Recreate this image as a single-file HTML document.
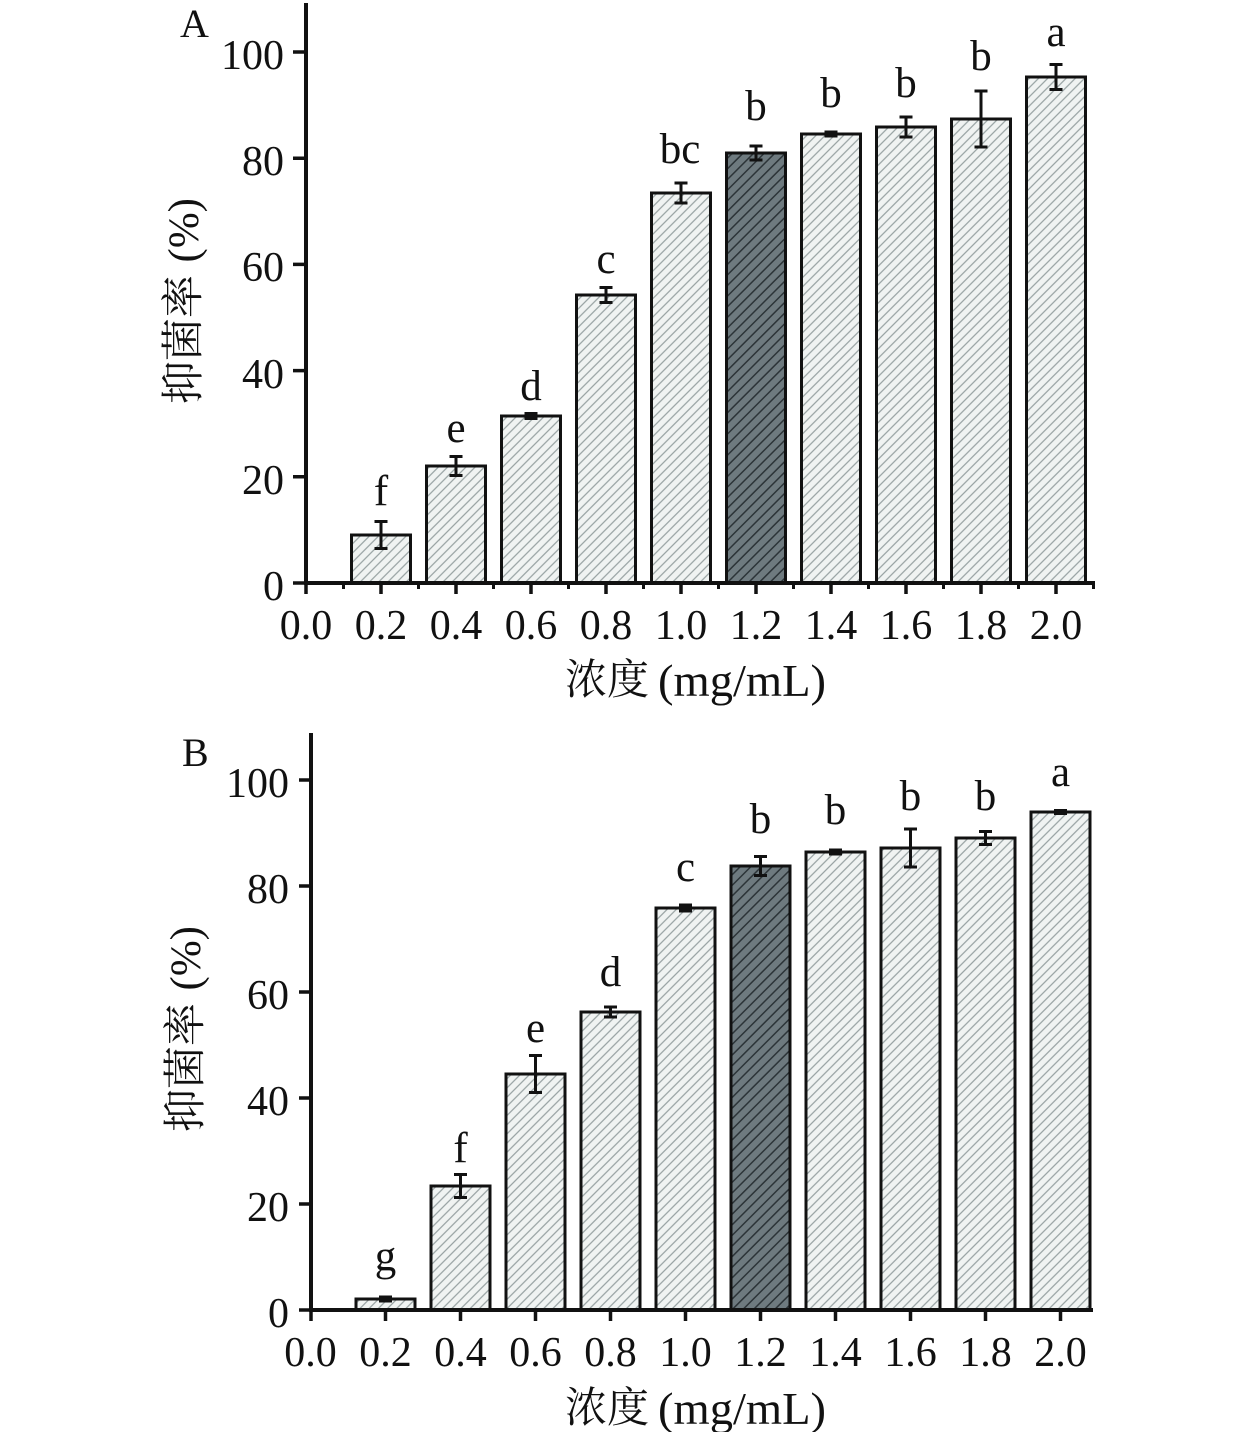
<!DOCTYPE html>
<html><head><meta charset="utf-8"><style>
html,body{margin:0;padding:0;background:#fff;}
svg{display:block;}
text{font-family:"Liberation Serif","Noto Serif CJK SC",serif;fill:#111;}
.cjk{font-family:"Noto Serif CJK SC","Liberation Serif",serif;}
</style></head><body>
<svg width="1260" height="1432" viewBox="0 0 1260 1432" xmlns="http://www.w3.org/2000/svg">
<defs>
<pattern id="hl" patternUnits="userSpaceOnUse" width="6.5" height="6.5" patternTransform="rotate(45)">
<rect width="6.5" height="6.5" fill="#f0f3f2"/>
<line x1="3.25" y1="0" x2="3.25" y2="6.5" stroke="#8d9899" stroke-width="1.1"/>
</pattern>
<pattern id="hd" patternUnits="userSpaceOnUse" width="7.5" height="7.5" patternTransform="rotate(45)">
<rect width="7.5" height="7.5" fill="#6e7a7f"/>
<line x1="3.75" y1="0" x2="3.75" y2="7.5" stroke="#2c3438" stroke-width="1.5"/>
</pattern>
</defs>

<!-- ================= CHART A ================= -->
<g stroke="#111" stroke-width="3">
<rect x="351.5" y="535" width="59" height="48" fill="url(#hl)"/>
<rect x="426.5" y="466" width="59" height="117" fill="url(#hl)"/>
<rect x="501.5" y="416" width="59" height="167" fill="url(#hl)"/>
<rect x="576.5" y="295" width="59" height="288" fill="url(#hl)"/>
<rect x="651.5" y="193" width="59" height="390" fill="url(#hl)"/>
<rect x="726.5" y="153" width="59" height="430" fill="url(#hd)"/>
<rect x="801.5" y="134" width="59" height="449" fill="url(#hl)"/>
<rect x="876.5" y="127" width="59" height="456" fill="url(#hl)"/>
<rect x="951.5" y="119" width="59" height="464" fill="url(#hl)"/>
<rect x="1026.5" y="77" width="59" height="506" fill="url(#hl)"/>
</g>
<g stroke="#111" stroke-width="3" fill="none">
<path d="M381 521.5V548.5M374.5 521.5H387.5M374.5 548.5H387.5"/>
<path d="M456 456.5V475.5M449.5 456.5H462.5M449.5 475.5H462.5"/>
<path d="M531 413.5V418.5M524.5 413.5H537.5M524.5 418.5H537.5"/>
<path d="M606 287.5V302.5M599.5 287.5H612.5M599.5 302.5H612.5"/>
<path d="M681 183V203M674.5 183H687.5M674.5 203H687.5"/>
<path d="M756 146V160M749.5 146H762.5M749.5 160H762.5"/>
<path d="M831 132V136M824.5 132H837.5M824.5 136H837.5"/>
<path d="M906 117V137M899.5 117H912.5M899.5 137H912.5"/>
<path d="M981 91V147M974.5 91H987.5M974.5 147H987.5"/>
<path d="M1056 64.5V89.5M1049.5 64.5H1062.5M1049.5 89.5H1062.5"/>
</g>
<g font-size="43" text-anchor="middle">
<text x="381" y="505">f</text>
<text x="456" y="442">e</text>
<text x="531" y="400">d</text>
<text x="606" y="273">c</text>
<text x="680" y="163">bc</text>
<text x="756" y="120">b</text>
<text x="831" y="107">b</text>
<text x="906" y="97">b</text>
<text x="981" y="70">b</text>
<text x="1056" y="46">a</text>
</g>
<g stroke="#111" fill="none">
<path d="M306 3V585" stroke-width="4"/>
<path d="M304 583H1095" stroke-width="4"/>
<path stroke-width="3.5" d="M306 583V594M381 583V594M456 583V594M531 583V594M606 583V594M681 583V594M756 583V594M831 583V594M906 583V594M981 583V594M1056 583V594"/>
<path stroke-width="3" d="M343.5 583V589M418.5 583V589M493.5 583V589M568.5 583V589M643.5 583V589M718.5 583V589M793.5 583V589M868.5 583V589M943.5 583V589M1018.5 583V589M1093.5 583V589"/>
<path stroke-width="3.5" d="M293 583H306M293 476.8H306M293 370.6H306M293 264.4H306M293 158.2H306M293 52H306"/>
</g>
<g font-size="42" text-anchor="end">
<text x="284" y="600">0</text>
<text x="284" y="494">20</text>
<text x="284" y="388">40</text>
<text x="284" y="281">60</text>
<text x="284" y="175">80</text>
<text x="284" y="69">100</text>
</g>
<g font-size="42" text-anchor="middle">
<text x="306" y="639">0.0</text>
<text x="381" y="639">0.2</text>
<text x="456" y="639">0.4</text>
<text x="531" y="639">0.6</text>
<text x="606" y="639">0.8</text>
<text x="681" y="639">1.0</text>
<text x="756" y="639">1.2</text>
<text x="831" y="639">1.4</text>
<text x="906" y="639">1.6</text>
<text x="981" y="639">1.8</text>
<text x="1056" y="639">2.0</text>
</g>
<text x="180" y="37" font-size="40">A</text>
<text class="cjk" x="565" y="694" font-size="42">浓度</text>
<text x="658" y="696" font-size="45" textLength="168" lengthAdjust="spacingAndGlyphs">(mg/mL)</text>
<text class="cjk" transform="translate(198,404) rotate(-90)" font-size="43">抑菌率</text>
<text transform="translate(198,198) rotate(-90)" font-size="43" text-anchor="end">(%)</text>

<!-- ================= CHART B ================= -->
<g stroke="#111" stroke-width="3">
<rect x="356" y="1299" width="59" height="11" fill="url(#hl)"/>
<rect x="431" y="1186" width="59" height="124" fill="url(#hl)"/>
<rect x="506" y="1074" width="59" height="236" fill="url(#hl)"/>
<rect x="581" y="1012" width="59" height="298" fill="url(#hl)"/>
<rect x="656" y="908" width="59" height="402" fill="url(#hl)"/>
<rect x="731" y="866" width="59" height="444" fill="url(#hd)"/>
<rect x="806" y="852" width="59" height="458" fill="url(#hl)"/>
<rect x="881" y="848" width="59" height="462" fill="url(#hl)"/>
<rect x="956" y="838" width="59" height="472" fill="url(#hl)"/>
<rect x="1031" y="812" width="59" height="498" fill="url(#hl)"/>
</g>
<g stroke="#111" stroke-width="3" fill="none">
<path d="M385.5 1297V1301M379 1297H392M379 1301H392"/>
<path d="M460.5 1174.5V1197.5M454 1174.5H467M454 1197.5H467"/>
<path d="M535.5 1055.5V1092.5M529 1055.5H542M529 1092.5H542"/>
<path d="M610.5 1007V1017M604 1007H617M604 1017H617"/>
<path d="M685.5 905V911M679 905H692M679 911H692"/>
<path d="M760.5 856.5V875.5M754 856.5H767M754 875.5H767"/>
<path d="M835.5 850V854M829 850H842M829 854H842"/>
<path d="M910.5 829V867M904 829H917M904 867H917"/>
<path d="M985.5 831.5V844.5M979 831.5H992M979 844.5H992"/>
<path d="M1060.5 810.5V813.5M1054 810.5H1067M1054 813.5H1067"/>
</g>
<g font-size="43" text-anchor="middle">
<text x="385.5" y="1270">g</text>
<text x="460.5" y="1162">f</text>
<text x="535.5" y="1042">e</text>
<text x="610.5" y="986">d</text>
<text x="685.5" y="881">c</text>
<text x="760.5" y="833">b</text>
<text x="835.5" y="824">b</text>
<text x="910.5" y="810">b</text>
<text x="985.5" y="810">b</text>
<text x="1060.5" y="786">a</text>
</g>
<g stroke="#111" fill="none">
<path d="M311 733V1312" stroke-width="4"/>
<path d="M309 1310H1093" stroke-width="4"/>
<path stroke-width="3.5" d="M311 1310V1321M385.5 1310V1321M460.5 1310V1321M535.5 1310V1321M610.5 1310V1321M685.5 1310V1321M760.5 1310V1321M835.5 1310V1321M910.5 1310V1321M985.5 1310V1321M1060.5 1310V1321"/>
<path stroke-width="3.5" d="M299 1310H311M299 1204H311M299 1098H311M299 992H311M299 886H311M299 780H311"/>
</g>
<g font-size="42" text-anchor="end">
<text x="289" y="1327">0</text>
<text x="289" y="1221">20</text>
<text x="289" y="1115">40</text>
<text x="289" y="1009">60</text>
<text x="289" y="903">80</text>
<text x="289" y="797">100</text>
</g>
<g font-size="42" text-anchor="middle">
<text x="310.5" y="1366">0.0</text>
<text x="385.5" y="1366">0.2</text>
<text x="460.5" y="1366">0.4</text>
<text x="535.5" y="1366">0.6</text>
<text x="610.5" y="1366">0.8</text>
<text x="685.5" y="1366">1.0</text>
<text x="760.5" y="1366">1.2</text>
<text x="835.5" y="1366">1.4</text>
<text x="910.5" y="1366">1.6</text>
<text x="985.5" y="1366">1.8</text>
<text x="1060.5" y="1366">2.0</text>
</g>
<text x="182" y="766" font-size="40">B</text>
<text class="cjk" x="565" y="1422" font-size="42">浓度</text>
<text x="658" y="1424" font-size="45" textLength="168" lengthAdjust="spacingAndGlyphs">(mg/mL)</text>
<text class="cjk" transform="translate(200,1132) rotate(-90)" font-size="43">抑菌率</text>
<text transform="translate(200,926) rotate(-90)" font-size="43" text-anchor="end">(%)</text>
</svg>
</body></html>
